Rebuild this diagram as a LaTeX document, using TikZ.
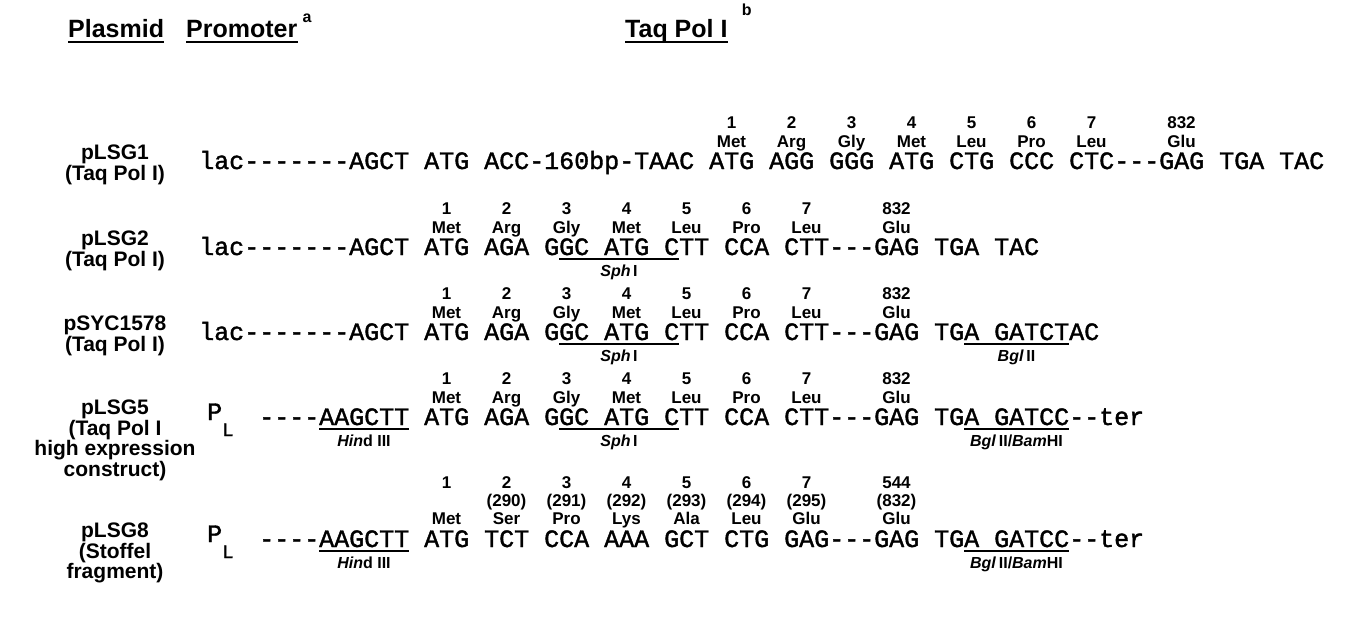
\documentclass[tikz,border=0pt]{standalone}
\usepackage{fontspec}
\setmainfont{Liberation Sans}
\newfontfamily\seqfont{Liberation Mono}[FakeBold=1.5]

\tikzset{
  seq/.style={anchor=base west, inner sep=0pt, text height=15pt, font=\fontsize{25}{25}\selectfont\seqfont},
  aa/.style={anchor=base, inner sep=0pt, font=\fontsize{17}{17}\selectfont\bfseries},
  enzyme/.style={anchor=base, inner sep=0pt, font=\fontsize{16}{16}\selectfont\bfseries},
  plasmid/.style={anchor=north, align=center, inner sep=0pt, font=\fontsize{21}{20.5}\selectfont\bfseries},
  head/.style={anchor=base west, inner sep=0pt, font=\fontsize{25}{25}\selectfont\bfseries},
  note/.style={anchor=base west, inner sep=0pt, font=\fontsize{16}{16}\selectfont\bfseries},
  siteline/.style={line width=1.3pt},
  headline/.style={line width=2pt},
}

% number + residue over each codon (char index in the row)
\newcommand{\codons}[2]{%
  \foreach \pos/\num/\res in {#2} {
    \node[aa] (#1a\pos) at ([shift={({(\pos+1.5)*15},22)}]#1) {\res};
    \node[aa] (#1n\pos) at ([shift={({(\pos+1.5)*15},41)}]#1) {\num};
  }}
% underlined restriction site with its name below
\newcommand{\cutsite}[5]{%
  \draw[siteline] ([shift={({#3*15},-4)}]#1) -- ([shift={({#4*15},-4)}]#1);
  \node[enzyme] (#2) at ([shift={({(#3+#4)*7.5},-21)}]#1) {#5};}

\begin{document}
\begin{tikzpicture}[x=1pt, y=1pt]
  \useasboundingbox (0,0) rectangle (1354,-619);

  % headings
  \node[head] (hplasmid) at (68,-37) {Plasmid};
  \node[head] (hpromoter) at (186,-37) {Promoter};
  \node[head] (hpol) at (625,-37) {Taq Pol I};
  \node[note] (hsupa) at ([shift={(5,15)}]hpromoter.base east) {a};
  \node[note] (hsupb) at ([shift={(14,22)}]hpol.base east) {b};
  \foreach \h in {hplasmid, hpromoter, hpol}
    \draw[headline] ([yshift=-5]\h.base west) -- ([yshift=-5]\h.base east);

  % rows
  \coordinate (r1) at (199,-169);
  \coordinate (r2) at (199,-255);
  \coordinate (r3) at (199,-340);
  \coordinate (r4) at (199,-425);
  \coordinate (r5) at (199,-547);

  \node[plasmid] (p1) at (115,-145) {pLSG1\\(Taq Pol I)};
  \node[plasmid] (p2) at (115,-231) {pLSG2\\(Taq Pol I)};
  \node[plasmid] (p3) at (115,-316) {pSYC1578\\(Taq Pol I)};
  \node[plasmid] (p4) at (115,-400) {pLSG5\\(Taq Pol I\\high expression\\construct)};
  \node[plasmid] (p5) at (115,-523) {pLSG8\\(Stoffel\\fragment)};

  \node[seq] (s1) at (r1) {lac-------AGCT ATG ACC-160bp-TAAC ATG AGG GGG ATG CTG CCC CTC---GAG TGA TAC};
  \node[seq] (s2) at (r2) {lac-------AGCT ATG AGA GGC ATG CTT CCA CTT---GAG TGA TAC};
  \node[seq] (s3) at (r3) {lac-------AGCT ATG AGA GGC ATG CTT CCA CTT---GAG TGA GATCTAC};
  \node[seq] (s4) at ([xshift=60]r4) {----AAGCTT ATG AGA GGC ATG CTT CCA CTT---GAG TGA GATCC--ter};
  \node[seq] (s5) at ([xshift=60]r5) {----AAGCTT ATG TCT CCA AAA GCT CTG GAG---GAG TGA GATCC--ter};

  % P_L promoter
  \foreach \r in {4,5} {
    \node[seq] (pl\r) at ([shift={(8,5)}]r\r) {P};
    \node[seq, font=\fontsize{19}{19}\selectfont\seqfont] (pls\r) at ([shift={(23,-11)}]r\r) {L};
  }

  \codons{r1}{34/1/Met,38/2/Arg,42/3/Gly,46/4/Met,50/5/Leu,54/6/Pro,58/7/Leu,64/832/Glu}
  \codons{r2}{15/1/Met,19/2/Arg,23/3/Gly,27/4/Met,31/5/Leu,35/6/Pro,39/7/Leu,45/832/Glu}
  \codons{r3}{15/1/Met,19/2/Arg,23/3/Gly,27/4/Met,31/5/Leu,35/6/Pro,39/7/Leu,45/832/Glu}
  \codons{r4}{15/1/Met,19/2/Arg,23/3/Gly,27/4/Met,31/5/Leu,35/6/Pro,39/7/Leu,45/832/Glu}

  % Stoffel fragment: new numbering, old numbering in brackets
  \foreach \pos/\num/\old/\res in {15/1//Met,19/2/(290)/Ser,23/3/(291)/Pro,27/4/(292)/Lys,
      31/5/(293)/Ala,35/6/(294)/Leu,39/7/(295)/Glu,45/544/(832)/Glu} {
    \node[aa] (r5a\pos) at ([shift={({(\pos+1.5)*15},23)}]r5) {\res};
    \node[aa] (r5o\pos) at ([shift={({(\pos+1.5)*15},41)}]r5) {\old};
    \node[aa] (r5n\pos) at ([shift={({(\pos+1.5)*15},59)}]r5) {\num};
  }

  % restriction sites
  \cutsite{r2}{sph2}{24}{32}{\textit{Sph}\,I}
  \cutsite{r3}{sph3}{24}{32}{\textit{Sph}\,I}
  \cutsite{r3}{bgl3}{51}{58}{\textit{Bgl}\,II}
  \cutsite{r4}{hind4}{8}{14}{\textit{Hin}d III}
  \cutsite{r4}{sph4}{24}{32}{\textit{Sph}\,I}
  \cutsite{r4}{bam4}{51}{58}{\textit{Bgl}\,II/\textit{Bam}HI}
  \cutsite{r5}{hind5}{8}{14}{\textit{Hin}d III}
  \cutsite{r5}{bam5}{51}{58}{\textit{Bgl}\,II/\textit{Bam}HI}
\end{tikzpicture}
\end{document}
